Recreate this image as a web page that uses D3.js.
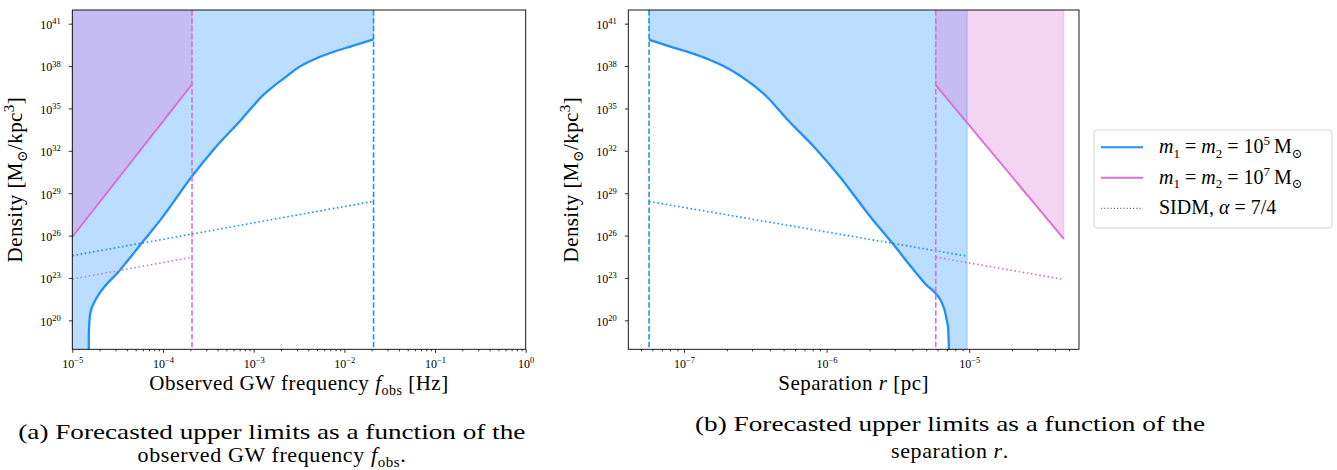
<!DOCTYPE html>
<html>
<head>
<meta charset="utf-8">
<script src="https://cdn.jsdelivr.net/npm/d3@7"></script>
<style>
  html, body { margin: 0; padding: 0; background: #fff; }
  svg { display: block; }
  text { font-family: "Liberation Serif", "DejaVu Serif", serif; fill: #000; }
</style>
</head>
<body>
<script>
// ---------------- DATA ----------------
// Panel (a): frequency f_obs [Hz] vs density [Msun/kpc^3]
const freqCurve1e5 = [
  [1.52e-5, 1e17], [1.521e-5, 1.3e19], [1.58e-5, 3.3e20], [1.77e-5, 2.2e21],
  [2.01e-5, 8.7e21], [3.27e-5, 3.0e23], [5.66e-5, 2.3e25], [9.75e-5, 1.8e27],
  [2.09e-4, 1.6e30], [3.63e-4, 1.26e32], [7.33e-4, 1.66e34], [1.24e-3, 7.4e35],
  [2.29e-3, 1.8e37], [3.1e-3, 7.8e37], [4.61e-3, 2.95e38], [7.14e-3, 8.7e38],
  [1.21e-2, 2.6e39], [2.10e-2, 7.8e39]
];
const freqLine1e7 = [[1e-5, 7.9e25], [2.09e-4, 5.0e36]];
const freqSidm1e5 = [[1e-5, 3.8e24], [2.10e-2, 2.7e28]];
const freqSidm1e7 = [[1e-5, 8.5e22], [2.09e-4, 2.9e24]];
const freqMin = 1e-5;
const freqCut1e5 = 2.10e-2;
const freqCut1e7 = 2.09e-4;
const freqTicks = [1e-5, 1e-4, 1e-3, 1e-2, 1e-1, 1e0];
const freqDomain = [1e-5, 1e0];

// Panel (b): separation r [pc] vs density
const sepCurve1e5 = [
  [5.69e-8, 7.4e39], [7.94e-8, 2.5e39], [1.16e-7, 7.6e38], [1.51e-7, 2.8e38],
  [1.89e-7, 1.0e38], [2.49e-7, 2.0e37], [3.75e-7, 7.9e35], [5.32e-7, 1.6e34],
  [8.49e-7, 1.26e32], [1.23e-6, 1.6e30], [2.04e-6, 2.0e27], [2.93e-6, 2.5e25],
  [3.98e-6, 5.0e23], [5.01e-6, 3.2e22], [5.83e-6, 7.9e21], [6.46e-6, 1.6e21],
  [6.75e-6, 4.6e20], [7.0e-6, 7.9e19], [7.13e-6, 2.3e19], [7.24e-6, 1e17]
];
const sepLine1e7 = [[5.83e-6, 4.5e36], [4.61e-5, 5.8e25]];
const sepSidm1e5 = [[5.69e-8, 2.6e28], [9.68e-6, 3.5e24]];
const sepSidm1e7 = [[5.83e-6, 3.0e24], [4.61e-5, 7.8e22]];
const sepCut1e5 = 5.69e-8;
const sepCut1e7 = 5.83e-6;
const sepEnd1e5 = 9.68e-6;
const sepEnd1e7 = 4.61e-5;
const sepTicks = [1e-7, 1e-6, 1e-5];
const sepDomain = [4.07e-8, 5.89e-5];

const densTicks = [1e20, 1e23, 1e26, 1e29, 1e32, 1e35, 1e38, 1e41];
const densDomain = [8.9e17, 9.3e41];
const fillTop = 1e46, fillBottom = 1e17;

const legendLabels = ["m1=m2=1e5", "m1=m2=1e7", "SIDM"];

// ---------------- STYLE ----------------
const BLUE = "#1E90FF";
const PINK = "#DA70D6";
const W = 1337, H = 470;
const yTop = 10, yBottom = 349.3;

const svg = d3.select("body").append("svg").attr("width", W).attr("height", H);
svg.append("rect").attr("width", W).attr("height", H).attr("fill", "#fff");

function rich(sel, parts, base) {
  let cur = 0;
  parts.forEach(p => {
    const target = p.sup ? -base * 0.4 : (p.sub ? base * 0.22 : 0);
    const ts = sel.append("tspan").text(p.t);
    if (target - cur !== 0) ts.attr("dy", (target - cur) + "px");
    cur = target;
    if (p.sup || p.sub) ts.attr("font-size", (p.size || base * 0.7) + "px");
    if (p.it) ts.attr("font-style", "italic");
  });
}

function expOf(v) {
  const e = Math.round(Math.log10(v));
  return (e < 0 ? "\u2212" + (-e) : "" + e);
}

function panel(cfg) {
  const x = d3.scaleLog().domain(cfg.xDomain).range([cfg.x0, cfg.x1]);
  const y = d3.scaleLog().domain(densDomain).range([yBottom, yTop]);
  const g = svg.append("g");
  const clipId = "clip" + cfg.id;
  svg.append("clipPath").attr("id", clipId).append("rect")
    .attr("x", cfg.x0).attr("y", yTop).attr("width", cfg.x1 - cfg.x0).attr("height", yBottom - yTop);
  const plot = g.append("g").attr("clip-path", `url(#${clipId})`);
  const pts = arr => arr.map(d => [x(d[0]), y(d[1])]);
  const P = d => `L${x(d[0])},${y(d[1])}`;

  cfg.fills.forEach(f => {
    const path = d3.line().curve(f.curve || d3.curveLinear)(pts(f.data)) + f.tail.map(P).join("") + "Z";
    plot.append("path").attr("d", path)
      .attr("fill", f.color).attr("fill-opacity", 0.3)
      .attr("stroke", f.color).attr("stroke-opacity", 0.3).attr("stroke-width", 1.2);
  });
  cfg.lines.forEach(l => {
    const p = plot.append("path")
      .attr("d", d3.line().curve(l.curve || d3.curveLinear)(pts(l.data)))
      .attr("fill", "none").attr("stroke", l.color).attr("stroke-width", l.width)
      .attr("stroke-linejoin", "round");
    if (l.dash) p.attr("stroke-dasharray", l.dash);
  });
  cfg.vlines.forEach(v => {
    plot.append("line").attr("x1", x(v.x)).attr("x2", x(v.x)).attr("y1", yTop).attr("y2", yBottom)
      .attr("stroke", v.color).attr("stroke-width", 1.6).attr("stroke-dasharray", "5.5,2.4");
  });

  const xAxis = g.append("g").attr("transform", `translate(0,${yBottom})`)
    .call(d3.axisBottom(x).tickValues(cfg.xTicks).tickSize(3.5).tickPadding(4).tickFormat(() => ""));
  xAxis.selectAll(".tick text").each(function(d) {
    const t = d3.select(this).attr("font-size", "12px").attr("dy", "0.9em");
    rich(t, [{t: "10"}, {t: expOf(d), sup: true, size: 8.5}], 12);
  });
  const minors = [];
  const lo = Math.floor(Math.log10(cfg.xDomain[0])), hi = Math.ceil(Math.log10(cfg.xDomain[1]));
  for (let e = lo; e < hi; e++) for (let k = 2; k <= 9; k++) {
    const v = k * Math.pow(10, e);
    if (v >= cfg.xDomain[0] && v <= cfg.xDomain[1]) minors.push(v);
  }
  g.append("g").attr("transform", `translate(0,${yBottom})`)
    .call(d3.axisBottom(x).tickValues(minors).tickSize(2).tickFormat(() => ""))
    .call(s => s.select(".domain").remove());

  const yAxis = g.append("g").attr("transform", `translate(${cfg.x0},0)`)
    .call(d3.axisLeft(y).tickValues(densTicks).tickSize(3.5).tickPadding(8).tickFormat(() => ""));
  yAxis.selectAll(".tick text").each(function(d) {
    const t = d3.select(this).attr("font-size", "12px").attr("dy", "0.4em");
    rich(t, [{t: "10"}, {t: expOf(d), sup: true, size: 8.5}], 12);
  });
  g.selectAll(".domain").remove();
  g.selectAll(".tick line").attr("stroke", "#000").attr("stroke-width", 0.8);
  g.selectAll(".tick text").attr("font-family", "Liberation Serif, DejaVu Serif, serif").attr("fill", "#000");

  g.append("rect").attr("x", cfg.x0).attr("y", yTop).attr("width", cfg.x1 - cfg.x0).attr("height", yBottom - yTop)
    .attr("fill", "none").attr("stroke", "#000").attr("stroke-width", 0.9);

  const xl = g.append("text").attr("x", (cfg.x0 + cfg.x1) / 2).attr("y", 390)
    .attr("text-anchor", "middle").attr("font-size", "21px").attr("letter-spacing", "0.5px");
  rich(xl, cfg.xLabel, 21);
  const yl = g.append("text").attr("transform", `translate(${cfg.x0 - 50},${(yTop + yBottom) / 2}) rotate(-90)`)
    .attr("text-anchor", "middle").attr("font-size", "21px").attr("letter-spacing", "0.4px");
  rich(yl, [{t: "Density [M"}, {t: "\u2299", sub: true, size: 14}, {t: "/kpc"}, {t: "3", sup: true, size: 15}, {t: "]"}], 21);
}

const smooth = d3.curveMonotoneX;

panel({
  id: "a", x0: 72.3, x1: 525.7, xDomain: freqDomain, xTicks: freqTicks,
  fills: [
    { color: BLUE, curve: smooth, data: freqCurve1e5,
      tail: [[freqCut1e5, fillTop], [freqMin, fillTop], [freqMin, fillBottom]] },
    { color: PINK, data: freqLine1e7, tail: [[freqCut1e7, fillTop], [freqMin, fillTop]] }
  ],
  lines: [
    { data: freqCurve1e5, color: BLUE, width: 2.3, curve: smooth },
    { data: freqLine1e7, color: PINK, width: 1.9 },
    { data: freqSidm1e5, color: BLUE, width: 1.6, dash: "1.6,2.6" },
    { data: freqSidm1e7, color: PINK, width: 1.6, dash: "1.6,2.6" }
  ],
  vlines: [{ x: freqCut1e7, color: PINK }, { x: freqCut1e5, color: BLUE }],
  xLabel: [{t: "Observed GW frequency "}, {t: "f", it: true}, {t: "obs", sub: true, size: 14}, {t: " [Hz]"}]
});

panel({
  id: "b", x0: 628.3, x1: 1079, xDomain: sepDomain, xTicks: sepTicks,
  fills: [
    { color: BLUE, curve: smooth, data: sepCurve1e5,
      tail: [[sepEnd1e5, fillBottom], [sepEnd1e5, fillTop], [sepCut1e5, fillTop]] },
    { color: PINK, data: sepLine1e7, tail: [[sepEnd1e7, fillTop], [sepCut1e7, fillTop]] }
  ],
  lines: [
    { data: sepCurve1e5, color: BLUE, width: 2.3, curve: smooth },
    { data: sepLine1e7, color: PINK, width: 1.9 },
    { data: sepSidm1e5, color: BLUE, width: 1.6, dash: "1.6,2.6" },
    { data: sepSidm1e7, color: PINK, width: 1.6, dash: "1.6,2.6" }
  ],
  vlines: [{ x: sepCut1e5, color: BLUE }, { x: sepCut1e7, color: PINK }],
  xLabel: [{t: "Separation "}, {t: "r", it: true}, {t: " [pc]"}]
});

// ---------------- LEGEND ----------------
const lg = svg.append("g");
lg.append("rect").attr("x", 1094).attr("y", 130).attr("width", 238).attr("height", 98).attr("rx", 3)
  .attr("fill", "#fff").attr("stroke", "#d5d5d5").attr("stroke-width", 1);
const legendItems = [
  { key: legendLabels[0], color: BLUE, dash: null, width: 2,
    parts: [{t: "m", it: true}, {t: "1", sub: true, size: 13}, {t: " = "}, {t: "m", it: true}, {t: "2", sub: true, size: 13}, {t: " = 10"}, {t: "5", sup: true, size: 13}, {t: "\u2009M"}, {t: "\u2299", sub: true, size: 13}] },
  { key: legendLabels[1], color: PINK, dash: null, width: 2,
    parts: [{t: "m", it: true}, {t: "1", sub: true, size: 13}, {t: " = "}, {t: "m", it: true}, {t: "2", sub: true, size: 13}, {t: " = 10"}, {t: "7", sup: true, size: 13}, {t: "\u2009M"}, {t: "\u2299", sub: true, size: 13}] },
  { key: legendLabels[2], color: "#777", dash: "1.2,2", width: 1.3,
    parts: [{t: "SIDM, "}, {t: "\u03b1", it: true}, {t: " = 7/4"}] }
];
const rowY = d3.scalePoint().domain(legendLabels).range([147.3, 208.3]);
legendItems.forEach(it => {
  const yy = rowY(it.key);
  const l = lg.append("line").attr("x1", 1101).attr("x2", 1143).attr("y1", yy).attr("y2", yy)
    .attr("stroke", it.color).attr("stroke-width", it.width);
  if (it.dash) l.attr("stroke-dasharray", it.dash);
  const t = lg.append("text").attr("x", 1159).attr("y", yy + 6).attr("font-size", "20px");
  rich(t, it.parts, 20);
});

// ---------------- CAPTIONS ----------------
const cap = svg.append("g");
cap.append("text").attr("x", 18.3).attr("y", 439).attr("font-size", "22px")
  .attr("textLength", 507).attr("lengthAdjust", "spacingAndGlyphs")
  .text("(a) Forecasted upper limits as a function of the");
const c2 = cap.append("text").attr("x", 272).attr("y", 462).attr("text-anchor", "middle").attr("font-size", "22px")
  .attr("letter-spacing", "0.6px");
rich(c2, [{t: "observed GW frequency "}, {t: "f", it: true}, {t: "obs", sub: true, size: 15}, {t: "."}], 22);
cap.append("text").attr("x", 695).attr("y", 431).attr("font-size", "22px")
  .attr("textLength", 510).attr("lengthAdjust", "spacingAndGlyphs")
  .text("(b) Forecasted upper limits as a function of the");
const c4 = cap.append("text").attr("x", 950).attr("y", 458).attr("text-anchor", "middle").attr("font-size", "22px")
  .attr("letter-spacing", "0.6px");
rich(c4, [{t: "separation "}, {t: "r", it: true}, {t: "."}], 22);
</script>
</body>
</html>
